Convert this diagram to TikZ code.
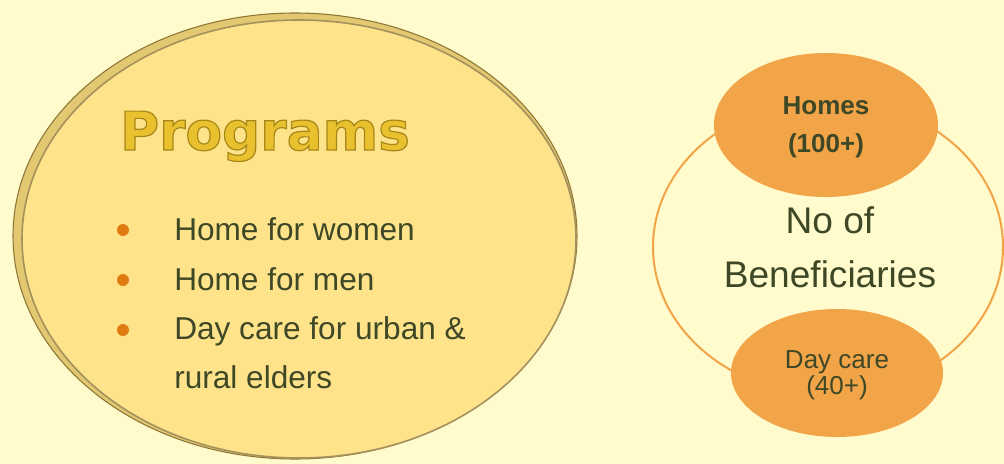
\documentclass[tikz,border=0pt]{standalone}
\usepackage{fontspec}
\setmainfont{Liberation Sans}
\newfontfamily\titlefont{DejaVu Sans}
\usepackage{tikz}

\definecolor{bgcream}{HTML}{FFFBCC}
\definecolor{coinfill}{HTML}{FFE38A}
\definecolor{coinrim}{HTML}{E2C870}
\definecolor{rimdark}{HTML}{8E7636}
\definecolor{titlegold}{HTML}{E9C02E}
\definecolor{inkolive}{HTML}{3E4826}
\definecolor{dotorange}{HTML}{E07B12}
\definecolor{blobfill}{HTML}{F2A448}

\begin{document}
\begin{tikzpicture}[x=0.75pt,y=0.75pt,yscale=-1,
    bullettext/.style={anchor=base west,inner sep=0pt,text=inkolive,font=\fontsize{23.7}{28}\selectfont},
    bigcount/.style={anchor=base,inner sep=0pt,text=inkolive,font=\fontsize{27.8}{32}\selectfont},
    smallcount/.style={anchor=base,inner sep=0pt,text=inkolive,font=\fontsize{19.5}{22}\selectfont}]
    %set diagram to 1004 x 464, cream background
    \fill[bgcream] (0,0) rectangle (1004,464);
    \useasboundingbox (0,0) rectangle (1004,464);

    %Shape: Ellipse [outer rim of the coin]
    \draw[rimdark,line width=0.8pt,fill=coinrim] (295,236) ellipse [x radius=282,y radius=223];
    %Shape: Ellipse [face of the coin]
    \draw[rimdark!80,line width=1.2pt,fill=coinfill] (299,239) ellipse [x radius=277,y radius=219];

    % Text Node
    \node (title) at (265,150) [anchor=base,inner sep=0pt,text=titlegold,font=\titlefont\bfseries\fontsize{40}{44}\selectfont]
        {\special{pdf:literal direct 2 Tr 0.9 w 0.66 0.53 0.10 RG}Programs\special{pdf:literal direct 0 Tr}};

    %Shape: Circle [bullets]
    \fill[dotorange] (123,230) circle [radius=6];
    \fill[dotorange] (123,280) circle [radius=6];
    \fill[dotorange] (123,330) circle [radius=6];

    % Text Node
    \node (women) at (174,240) [bullettext] {Home for women};
    % Text Node
    \node (men) at (174,290) [bullettext] {Home for men};
    % Text Node
    \node (daycare) at (174,339) [bullettext] {Day care for urban \&};
    % Text Node
    \node (rural) at (174,388) [bullettext] {rural elders};

    %Shape: Ellipse [ring of beneficiaries]
    \draw[blobfill,line width=1.5pt] (828,247) ellipse [x radius=175,y radius=148];
    %Shape: Ellipse [homes]
    \fill[blobfill] (826,125) ellipse [x radius=112,y radius=72];
    %Shape: Ellipse [day care]
    \fill[blobfill] (837,373) ellipse [x radius=106,y radius=64];

    % Text Node
    \node (homes) at (826,114) [smallcount,font=\bfseries\fontsize{19.5}{22}\selectfont] {Homes};
    % Text Node
    \node (homesnum) at (826,152) [smallcount,font=\bfseries\fontsize{19.5}{22}\selectfont] {(100+)};
    % Text Node
    \node (noof) at (830,233) [bigcount] {No of};
    % Text Node
    \node (benef) at (830,287) [bigcount] {Beneficiaries};
    % Text Node
    \node (dayc) at (837,368) [smallcount] {Day care};
    % Text Node
    \node (daycnum) at (837,394) [smallcount] {(40+)};

\end{tikzpicture}
\end{document}
